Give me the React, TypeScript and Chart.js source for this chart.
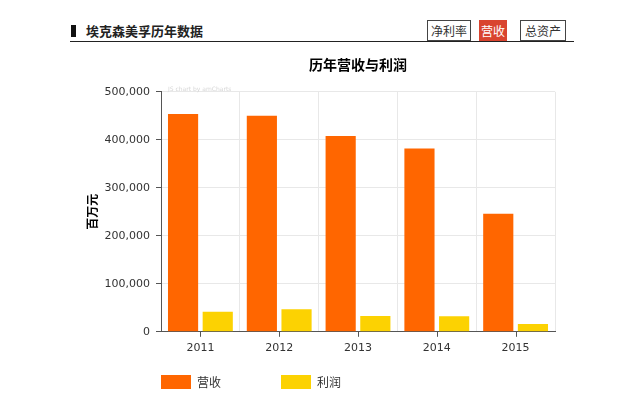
import React, { useEffect, useRef } from "react";
import { Chart, registerables } from "chart.js";

Chart.register(...registerables);

const categories = ["2011", "2012", "2013", "2014", "2015"];
const revenue = [454000, 450000, 408000, 382000, 246000];
const profit = [42000, 47000, 33000, 32500, 16000];
const yTickValues = [0, 100000, 200000, 300000, 400000, 500000];
const seriesNames = ["营收", "利润"];
const chartTitle = "历年营收与利润";
const yAxisTitle = "百万元";
const headerTitle = "埃克森美孚历年数据";
const buttons = ["净利率", "营收", "总资产"];

const FONT = "'DejaVu Sans', 'Noto Sans CJK SC', sans-serif";
const CJK = "'Noto Sans CJK SC', 'DejaVu Sans', sans-serif";

const fixPlugin = {
  id: "fixPlugin",
  afterInit(chart: any) {
    const lg = chart.legend;
    if (lg && !lg.__patched) {
      const origFit = lg.fit;
      lg.fit = function () {
        origFit.call(this);
        this.height = 28;
      };
      lg.__patched = true;
    }
  },
  beforeDraw(chart: any) {
    const ca = chart.chartArea;
    const lg = chart.legend;
    if (lg) {
      const pad = lg.options.labels.padding;
      lg.left = ca.left - pad;
      lg.right = 640;
      lg.top = 330 - pad;
      lg.bottom = 354;
    }
    const t = chart.titleBlock;
    if (t) {
      t.left = ca.left;
      t.right = ca.right;
    }
  },
  afterDraw(chart: any) {
    const ctx = chart.ctx;
    const ca = chart.chartArea;
    const xs = chart.scales.x;
    ctx.save();
    ctx.strokeStyle = "#555";
    ctx.lineWidth = 1;
    xs.ticks.forEach((_: any, i: number) => {
      const px = Math.round(xs.getPixelForTick(i)) + 0.5;
      ctx.beginPath();
      ctx.moveTo(px, ca.bottom);
      ctx.lineTo(px, ca.bottom + 5);
      ctx.stroke();
    });
    ctx.fillStyle = "#d6d6d6";
    ctx.font = "6px " + FONT;
    ctx.textBaseline = "middle";
    ctx.textAlign = "left";
    ctx.fillText("JS chart by amCharts", ca.left + 7, ca.top - 2);
    ctx.restore();
  },
};

function BarChart() {
  const ref = useRef<HTMLCanvasElement | null>(null);
  useEffect(() => {
    if (!ref.current) return;
    const chart = new Chart(ref.current, {
      type: "bar",
      data: {
        labels: categories,
        datasets: [
          {
            label: seriesNames[0],
            data: revenue,
            backgroundColor: "#FF6600",
            borderWidth: 0,
            categoryPercentage: 0.88,
            barPercentage: 0.87,
          },
          {
            label: seriesNames[1],
            data: profit,
            backgroundColor: "#FCD202",
            borderWidth: 0,
            categoryPercentage: 0.88,
            barPercentage: 0.87,
          },
        ],
      },
      options: {
        responsive: false,
        animation: false,
        layout: { padding: { left: 80, right: 85, top: 0, bottom: 6 } },
        plugins: {
          tooltip: { enabled: false },
          title: {
            display: true,
            text: chartTitle,
            color: "#000",
            font: { family: CJK, size: 14, weight: "bold" },
            padding: { top: 11, bottom: 19 },
          },
          legend: {
            display: true,
            position: "bottom",
            align: "start",
            labels: {
              boxWidth: 30,
              boxHeight: 14,
              padding: 60,
              color: "#333",
              font: { family: CJK, size: 12 },
            },
          },
        },
        scales: {
          x: {
            grid: {
              offset: true,
              drawTicks: false,
              color: "#e8e8e8",
            },
            border: { color: "#555", width: 1 },
            ticks: {
              color: "#333",
              padding: 10,
              font: { family: FONT, size: 11 },
            },
          },
          y: {
            min: 0,
            max: 500000,
            afterBuildTicks: (s: any) => {
              s.ticks = yTickValues.map((v) => ({ value: v }));
            },
            afterFit: (s: any) => {
              s.width = 81;
            },
            grid: {
              color: "#e8e8e8",
              tickLength: 5,
              tickColor: "#555",
            },
            border: { color: "#555", width: 1 },
            ticks: {
              color: "#333",
              padding: 6,
              font: { family: FONT, size: 11 },
              callback: (v: any) => Number(v).toLocaleString("en-US"),
            },
            title: {
              display: true,
              text: yAxisTitle,
              color: "#000",
              font: { family: CJK, size: 12, weight: "bold" },
              padding: { top: 5, bottom: 0 },
            },
          },
        },
      },
      plugins: [fixPlugin],
    });
    return () => chart.destroy();
  }, []);
  return (
    <canvas
      ref={ref}
      width={640}
      height={354}
      style={{ position: "absolute", left: 0, top: 45, width: 640, height: 354 }}
    />
  );
}

export default function App() {
  const btnBase: React.CSSProperties = {
    position: "absolute",
    top: 20,
    height: 21,
    boxSizing: "border-box",
    border: "1px solid #444",
    background: "#fff",
    color: "#333",
    fontFamily: CJK,
    fontSize: 12,
    lineHeight: "19px",
    textAlign: "center",
  };
  return (
    <div
      style={{
        position: "absolute",
        left: 0,
        top: 0,
        width: 640,
        height: 399,
        background: "#fff",
        overflow: "hidden",
      }}
    >
      <div style={{ position: "absolute", left: 71, top: 25, width: 5, height: 12, background: "#111" }} />
      <div
        style={{
          position: "absolute",
          left: 86,
          top: 22,
          fontFamily: CJK,
          fontSize: 13,
          fontWeight: "bold",
          lineHeight: "18px",
          color: "#222",
          whiteSpace: "nowrap",
        }}
      >
        {headerTitle}
      </div>
      <div style={{ ...btnBase, left: 427, width: 44 }}>{buttons[0]}</div>
      <div
        style={{
          ...btnBase,
          left: 479,
          width: 28,
          background: "#D9442F",
          border: "1px solid #D9442F",
          color: "#fff",
        }}
      >
        {buttons[1]}
      </div>
      <div style={{ ...btnBase, left: 520, width: 46 }}>{buttons[2]}</div>
      <div style={{ position: "absolute", left: 70, top: 41, width: 504, height: 1, background: "#222" }} />
      <BarChart />
    </div>
  );
}
